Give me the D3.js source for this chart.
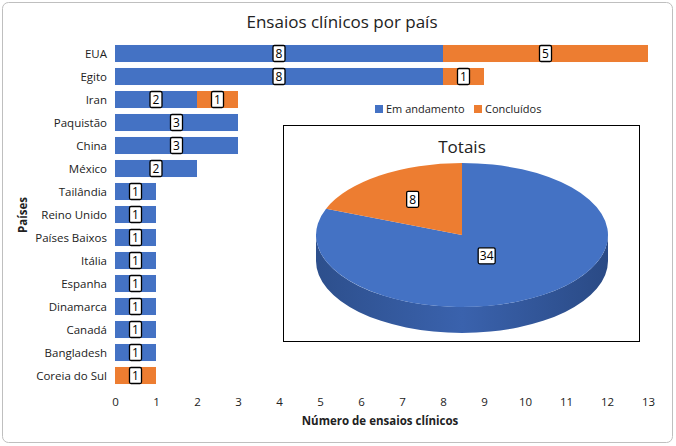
<!DOCTYPE html>
<html><head><meta charset="utf-8">
<script src="https://cdn.jsdelivr.net/npm/d3@7"></script>
<style>body{margin:0;background:#fff}text{font-family:"Open Sans",Calibri,sans-serif}</style>
</head><body>
<svg id="chart" width="676" height="446"></svg>
<script>
// data
const countries = ["EUA","Egito","Iran","Paquistão","China","México","Tailândia","Reino Unido","Países Baixos","Itália","Espanha","Dinamarca","Canadá","Bangladesh","Coreia do Sul"];
const ongoing   = [8,8,2,3,3,2,1,1,1,1,1,1,1,1,0];
const completed = [5,1,1,0,0,0,0,0,0,0,0,0,0,0,1];
const xTicks = d3.range(0,14);
const totalLabels = ["Em andamento","Concluídos"];
const totals = [34, 8];

const blue = "#4472c4", orange = "#ed7d31";
const svg = d3.select("#chart");

svg.append("rect").attr("x",2.5).attr("y",2.5).attr("width",670).attr("height",440)
  .attr("rx",6).attr("fill","#fff").attr("stroke","#bfbfbf");

svg.append("text").attr("x",342).attr("y",28).attr("text-anchor","middle")
  .attr("font-size",17).attr("fill","#222").text("Ensaios clínicos por país");

const x = d3.scaleLinear().domain([0,13]).range([115,648]);
const y = d3.scaleBand().domain(countries).range([42,387]).paddingInner(0.26).paddingOuter(0.13);

// y labels
svg.append("g").selectAll("text").data(countries).join("text")
  .attr("x",107).attr("y",d=>y(d)+y.bandwidth()/2+4).attr("text-anchor","end")
  .attr("font-size",11.5).attr("fill","#222").text(d=>d);

const rows = countries.map((c,i)=>({c,a:ongoing[i],b:completed[i]}));
const segs = [];
rows.forEach(r=>{
  if(r.a>0) segs.push({c:r.c,x0:0,x1:r.a,v:r.a,col:blue});
  if(r.b>0) segs.push({c:r.c,x0:r.a,x1:r.a+r.b,v:r.b,col:orange});
});
svg.append("g").selectAll("rect").data(segs).join("rect")
  .attr("x",d=>x(d.x0)).attr("width",d=>x(d.x1)-x(d.x0))
  .attr("y",d=>y(d.c)).attr("height",y.bandwidth()).attr("fill",d=>d.col);

function valBox(g,cx,cy,t){
  const w = t.length>1?17:12;
  g.append("rect").attr("x",cx-w/2).attr("y",cy-8).attr("width",w).attr("height",16)
    .attr("fill","#fff").attr("stroke","#000").attr("stroke-width",1.3).attr("rx",1.5);
  g.append("text").attr("x",cx).attr("y",cy+4.5).attr("text-anchor","middle")
    .attr("font-size",12).attr("fill","#000").text(t);
}
const lg = svg.append("g");
segs.forEach(d=>valBox(lg,(x(d.x0)+x(d.x1))/2,y(d.c)+y.bandwidth()/2,String(d.v)));

// x axis
const xa = svg.append("g").attr("transform","translate(0,390)")
  .call(d3.axisBottom(x).tickValues(xTicks).tickSize(0).tickPadding(8));
xa.select(".domain").remove();
xa.selectAll("text").attr("font-size",11.5).attr("fill","#222").style("font-family","'Open Sans',sans-serif");
svg.append("text").attr("x",380).attr("y",425).attr("text-anchor","middle")
  .attr("font-size",11.5).attr("font-weight","bold").attr("fill","#222").text("Número de ensaios clínicos");
svg.append("text").attr("transform","translate(27,215) rotate(-90)").attr("text-anchor","middle")
  .attr("font-size",11.5).attr("font-weight","bold").attr("fill","#222").text("Países");

// legend
const leg = svg.append("g");
[[375,blue],[474,orange]].forEach(([lx,c],i)=>{
  leg.append("rect").attr("x",lx).attr("y",105).attr("width",8).attr("height",8).attr("fill",c);
  leg.append("text").attr("x",lx+11).attr("y",113).attr("font-size",11).attr("fill","#222").text(totalLabels[i]);
});

// inset pie
svg.append("rect").attr("x",283.5).attr("y",125.5).attr("width",356).attr("height",216)
  .attr("fill","#fff").attr("stroke","#000").attr("stroke-width",1);
svg.append("text").attr("x",462).attr("y",153).attr("text-anchor","middle")
  .attr("font-size",17).attr("fill","#222").text("Totais");

const cx=462, cy=235, rx=146, ry=72, depth=26;
const defs = svg.append("defs");
const gr = defs.append("linearGradient").attr("id","side");
gr.append("stop").attr("offset","0%").attr("stop-color","#2d4f8c");
gr.append("stop").attr("offset","50%").attr("stop-color","#3a62ad");
gr.append("stop").attr("offset","100%").attr("stop-color","#2a4a85");
svg.append("path").attr("fill","url(#side)")
  .attr("d",`M${cx-rx},${cy} A${rx},${ry} 0 0 0 ${cx+rx},${cy} L${cx+rx},${cy+depth} A${rx},${ry} 0 0 1 ${cx-rx},${cy+depth} Z`);

const pie = d3.pie().sort(null)(totals);
// angle measured clockwise from top; orange slice ends at top
const total = d3.sum(totals);
const pt = a=>[cx+rx*Math.sin(a), cy-ry*Math.cos(a)];
function slicePath(a0,a1){
  const [x0,y0]=pt(a0),[x1,y1]=pt(a1);
  const large = (a1-a0)>Math.PI?1:0;
  return `M${cx},${cy} L${x0},${y0} A${rx},${ry} 0 ${large} 1 ${x1},${y1} Z`;
}
const orangeStart = -2*Math.PI*totals[1]/total;
svg.append("path").attr("d",slicePath(0,2*Math.PI+orangeStart)).attr("fill",blue);
svg.append("path").attr("d",slicePath(orangeStart,0)).attr("fill",orange);
const pl = svg.append("g");
const ma = orangeStart/2, mb = (2*Math.PI+orangeStart)/2;
valBox(pl,cx+rx*0.6*Math.sin(ma),cy-ry*0.6*Math.cos(ma),String(totals[1]));
valBox(pl,cx+rx*0.3*Math.sin(mb),cy-ry*0.3*Math.cos(mb)+3,String(totals[0]));
</script>
</body></html>
